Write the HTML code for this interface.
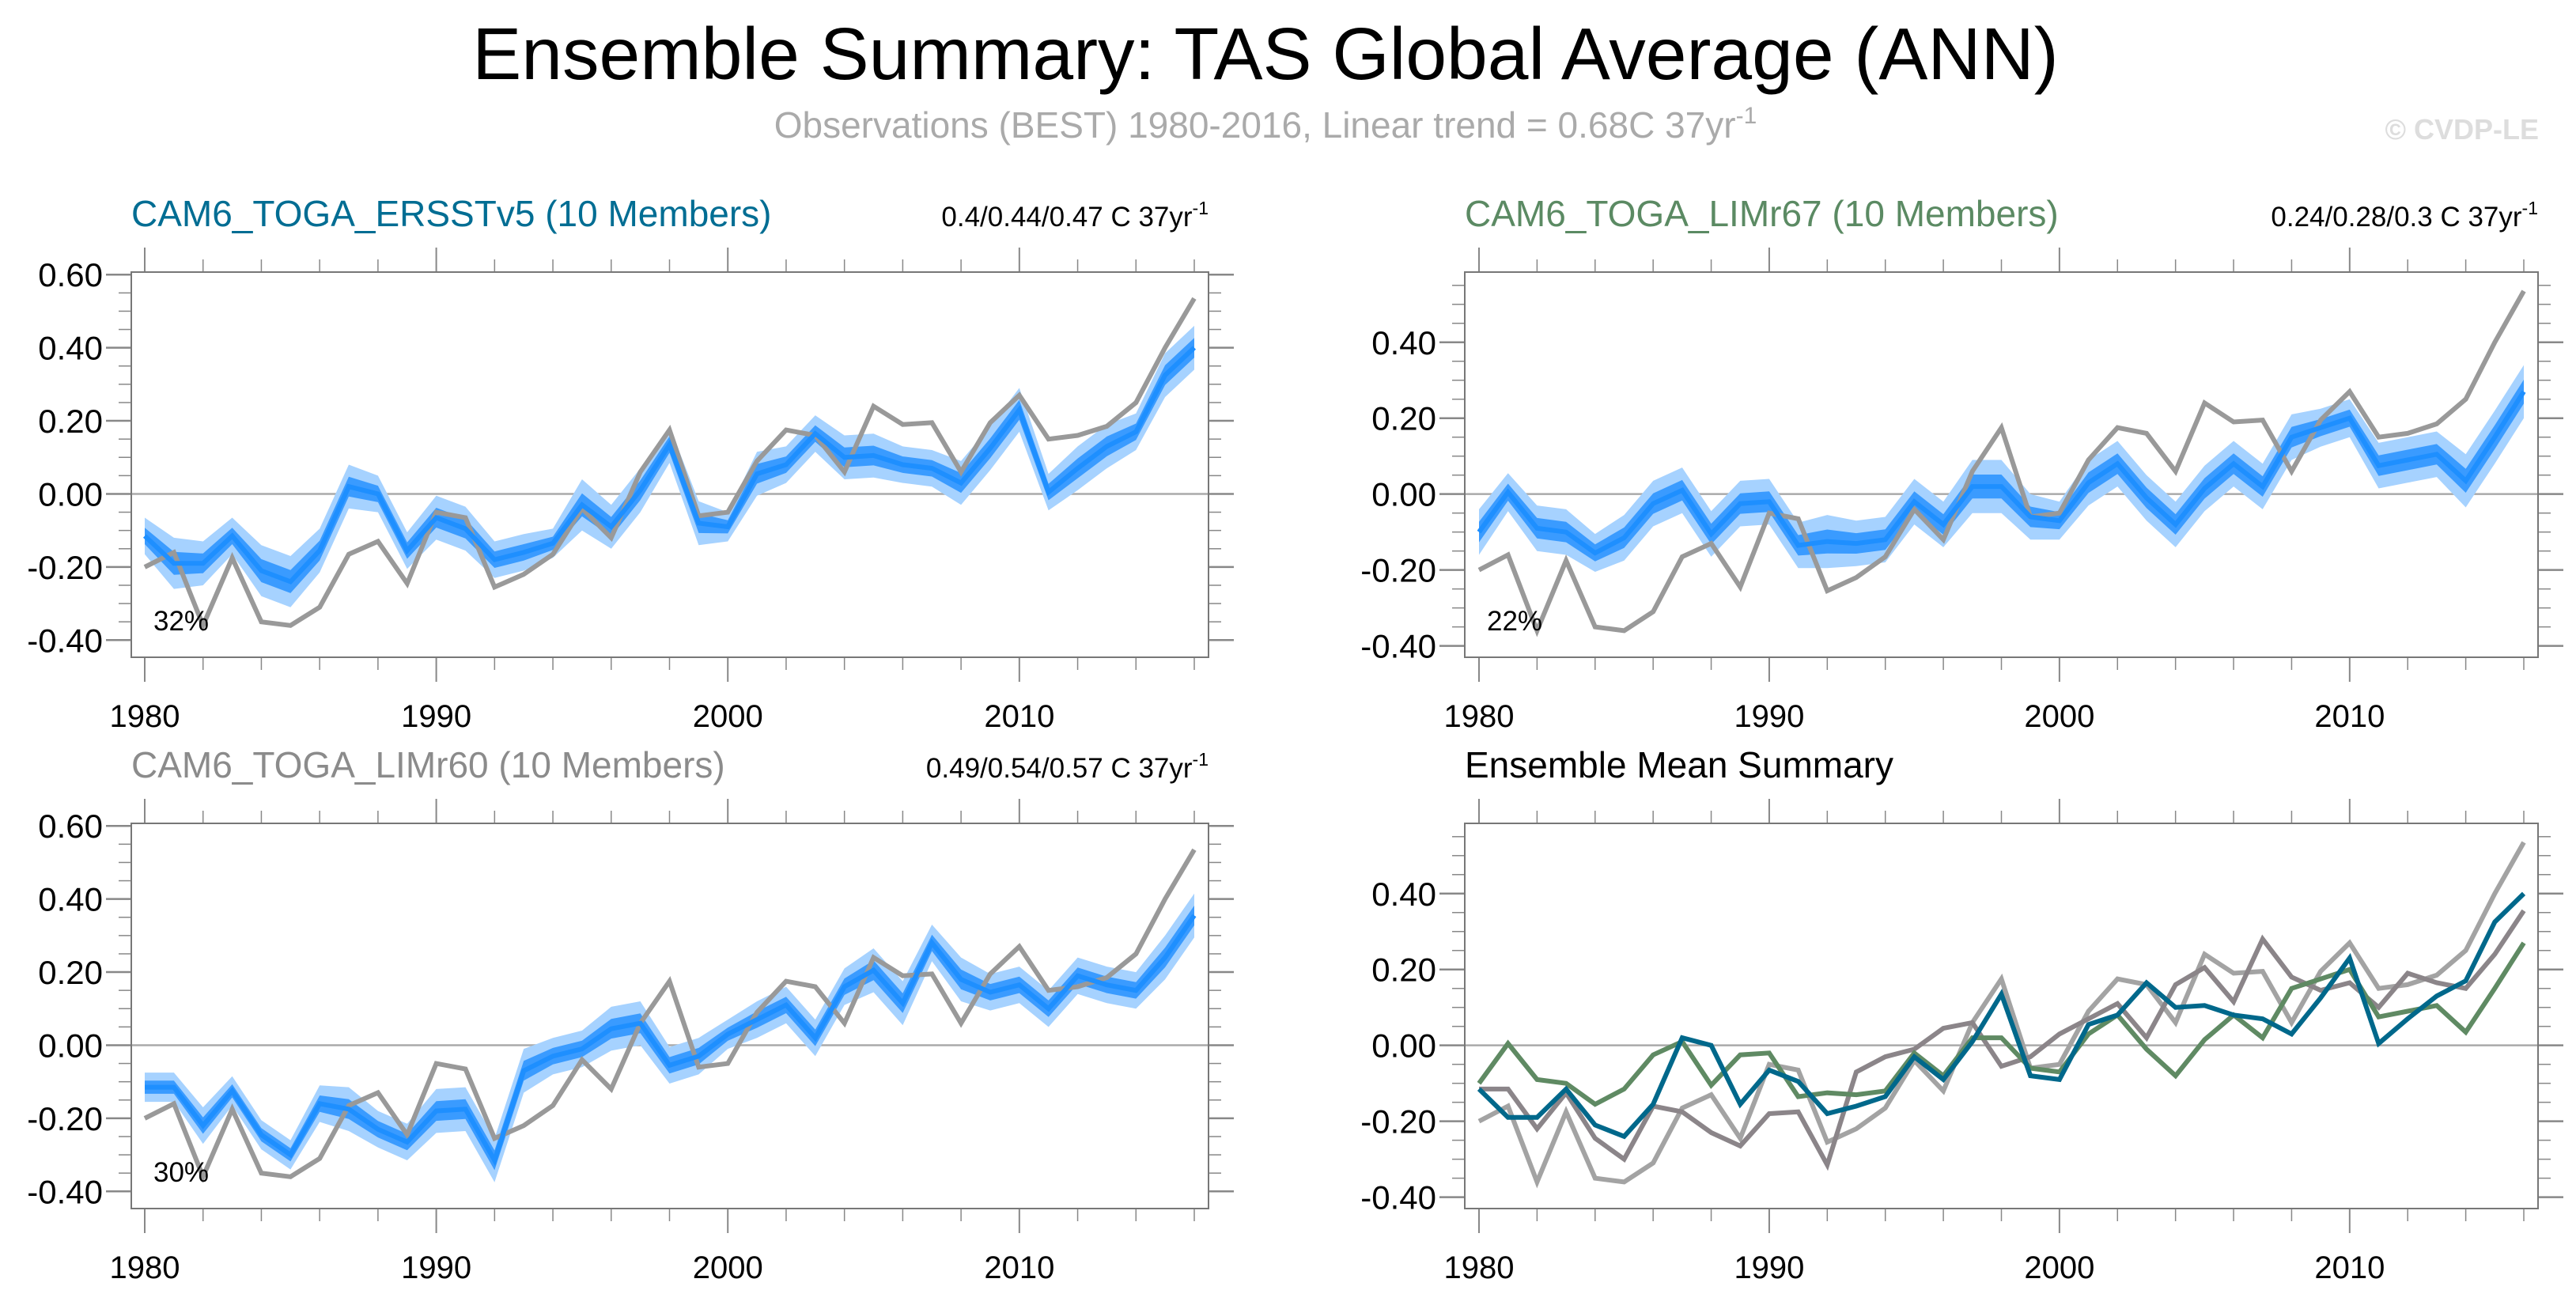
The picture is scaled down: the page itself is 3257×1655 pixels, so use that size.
<!DOCTYPE html>
<html><head><meta charset="utf-8">
<style>
body{margin:0;background:#fff;}
svg text{font-family:"Liberation Sans",sans-serif;}
</style></head>
<body>
<svg id="chart" width="3257" height="1650" viewBox="0 0 3257 1650" xmlns="http://www.w3.org/2000/svg">
<text x="1600" y="100" font-size="93" text-anchor="middle" fill="#000">Ensemble Summary: TAS Global Average (ANN)</text>
<text x="1600" y="174" font-size="46" text-anchor="middle" fill="#aaa">Observations (BEST) 1980-2016, Linear trend = 0.68C 37yr<tspan font-size="30" dy="-18">-1</tspan></text>
<text x="3210" y="176" font-size="36" font-weight="bold" text-anchor="end" fill="#ddd">© CVDP-LE</text>
<g id="plots"></g>
</svg>
<script>
const years = [];
for (let y = 1980; y <= 2016; y++) years.push(y);
const obs = [-0.20,-0.16,-0.36,-0.175,-0.35,-0.36,-0.31,-0.165,-0.13,-0.245,-0.05,-0.065,-0.255,-0.22,-0.165,-0.04,-0.12,0.06,0.175,-0.06,-0.05,0.09,0.175,0.16,0.06,0.24,0.19,0.195,0.06,0.195,0.27,0.15,0.16,0.185,0.25,0.40,0.535];
const meanErsst = [-0.115,-0.19,-0.19,-0.115,-0.21,-0.24,-0.155,0.02,0.0,-0.155,-0.065,-0.095,-0.18,-0.16,-0.135,-0.03,-0.09,0.01,0.135,-0.08,-0.09,0.055,0.08,0.165,0.10,0.105,0.08,0.07,0.03,0.125,0.23,0.005,0.07,0.13,0.17,0.325,0.40];
const meanLim67 = [-0.10,0.005,-0.09,-0.10,-0.155,-0.115,-0.025,0.01,-0.105,-0.025,-0.02,-0.135,-0.125,-0.13,-0.12,-0.02,-0.08,0.02,0.02,-0.06,-0.07,0.03,0.08,-0.01,-0.08,0.015,0.08,0.02,0.15,0.175,0.20,0.075,0.09,0.105,0.035,0.15,0.27];
const meanLim60 = [-0.115,-0.115,-0.22,-0.125,-0.245,-0.30,-0.16,-0.175,-0.23,-0.265,-0.18,-0.175,-0.315,-0.07,-0.03,-0.01,0.045,0.06,-0.055,-0.03,0.03,0.07,0.11,0.02,0.16,0.205,0.115,0.28,0.18,0.145,0.165,0.10,0.19,0.165,0.15,0.24,0.355];
const spreadErsst = [0.05,0.07,0.06,0.05,0.07,0.07,0.06,0.06,0.05,0.05,0.06,0.06,0.05,0.05,0.04,0.07,0.06,0.06,0.05,0.06,0.04,0.06,0.05,0.05,0.06,0.06,0.05,0.05,0.06,0.06,0.06,0.05,0.06,0.06,0.05,0.06,0.06];
const spreadLim67 = [0.06,0.05,0.06,0.06,0.05,0.06,0.06,0.06,0.06,0.06,0.06,0.06,0.07,0.06,0.06,0.06,0.06,0.07,0.07,0.06,0.05,0.06,0.06,0.06,0.06,0.06,0.06,0.06,0.06,0.05,0.05,0.06,0.06,0.06,0.07,0.07,0.07];
const spreadLim60 = [0.04,0.04,0.05,0.04,0.04,0.04,0.05,0.06,0.05,0.05,0.06,0.06,0.06,0.06,0.05,0.05,0.06,0.06,0.05,0.05,0.04,0.05,0.05,0.05,0.05,0.06,0.06,0.05,0.06,0.05,0.05,0.05,0.05,0.05,0.05,0.06,0.06];
const leftTicks = [-0.40,-0.20,0.00,0.20,0.40,0.60];
const rightTicks = [-0.40,-0.20,0.00,0.20,0.40];
const yearLabels = [1980,1990,2000,2010];

const NS = "http://www.w3.org/2000/svg";
const root = document.getElementById('plots');
function mk(tag, attrs, parent){
  const e = document.createElementNS(NS, tag);
  for (const k in attrs) e.setAttribute(k, attrs[k]);
  (parent||root).appendChild(e);
  return e;
}
function panel(p){
  const g = mk('g', {});
  
  
  const xs = yr => p.xa + (yr - 1980) * (p.xb - p.xa) / 36;
  const ys = v => p.y1 - (v - p.vmin) * (p.y1 - p.y0) / (p.vmax - p.vmin);
  for (let v = -0.40; v <= p.vmax + 1e-6; v += 0.05) {
    const vv = Math.round(v*100)/100;
    const major = Math.abs(Math.round(vv*100) % 20) === 0;
    const len = major ? 32 : 16;
    const t1 = mk('line', {x1:p.x0-len, x2:p.x0, y1:ys(vv), y2:ys(vv), stroke:'#888', 'stroke-width':major?2.5:1.5}, g);
    
    
    const t2 = mk('line', {x1:p.x1, x2:p.x1+len, y1:ys(vv), y2:ys(vv), stroke:'#888', 'stroke-width':major?2.5:1.5}, g);
    
    
  }
  for (let yr = 1980; yr <= 2016; yr += 2) {
    const major = (yr % 10) === 0;
    const len = major ? 31 : 16;
    const a = mk('line', {x1:xs(yr), x2:xs(yr), y1:p.y0-len, y2:p.y0, stroke:'#888', 'stroke-width':major?2:1.5}, g);
    
    
    const b = mk('line', {x1:xs(yr), x2:xs(yr), y1:p.y1, y2:p.y1+len, stroke:'#888', 'stroke-width':major?2:1.5}, g);
    
    
  }
  p.ticks.forEach(v => {
    const t = mk('text', {x:p.x0-36, y:ys(v)+15, 'font-size':42, 'text-anchor':'end', fill:'#000'}, g);
    
    
    t.textContent = v.toFixed(2);
  });
  yearLabels.forEach(yr => {
    const t = mk('text', {x:xs(yr), y:p.y1+88, 'font-size':40, 'text-anchor':'middle', fill:'#000'}, g);
    
    
    t.textContent = yr;
  });
  const z = mk('line', {x1:p.x0, x2:p.x1, y1:ys(0), y2:ys(0), stroke:'#aaa', 'stroke-width':2.5}, g);
  
  
  const pts = arr => arr.map((v,i)=>xs(years[i]).toFixed(1)+','+ys(v).toFixed(1));
  const line = (arr, color, w, name) => {
    const l = mk('polyline', {points:pts(arr).join(' '), fill:'none', stroke:color, 'stroke-width':w, 'stroke-linejoin':'miter'}, g);
    
    
  };
  if (p.mean) {
    const band = (k, color, name) => {
      const hi = p.mean.map((v,i)=>v + p.spread[i]*k);
      const lo = p.mean.map((v,i)=>v - p.spread[i]*k);
      const b = mk('polygon', {points:pts(hi).concat(pts(lo).reverse()).join(' '), fill:color}, g);
      
      
    };
    band(1, '#a6d2ff', 'outer-spread-band');
    band(0.45, '#3a9bff', 'inner-spread-band');
    line(obs, '#999', 6, 'observations-line');
    line(p.mean, '#1e8fff', 6, 'ensemble-mean-line');
    const pc = mk('text', {x:p.x0+28, y:p.y1-34, 'font-size':35, fill:'#000'}, g);
    
    
    pc.textContent = p.pct;
  } else {
    line(obs, '#a3a3a3', 6, 'observations-line');
    line(meanLim60, '#8b8589', 6, 'limr60-mean-line');
    line(meanLim67, '#5f8a63', 6, 'limr67-mean-line');
    line(meanErsst, '#00688b', 6, 'ersst-mean-line');
  }
  const box = mk('rect', {x:p.x0, y:p.y0, width:p.x1-p.x0, height:p.y1-p.y0, fill:'none', stroke:'#777', 'stroke-width':2}, g);
  
  
  const tt = mk('text', {x:p.x0, y:p.y0-58, 'font-size':46, fill:p.tcolor}, g);
  
  
  tt.textContent = p.title;
  if (p.trend) {
    const tr = mk('text', {x:p.x1, y:p.y0-58, 'font-size':35, 'text-anchor':'end', fill:'#000'}, g);
    
    
    tr.innerHTML = p.trend + ' C 37yr<tspan font-size="23" dy="-15">-1</tspan>';
  }
}
panel({name:'panel-ersstv5', x0:166,x1:1528,y0:344,y1:831,xa:183,xb:1510,vmin:-0.447,vmax:0.607,ticks:leftTicks,mean:meanErsst,spread:spreadErsst,pct:'32%',title:'CAM6_TOGA_ERSSTv5 (10 Members)',tcolor:'#006d93',trend:'0.4/0.44/0.47'});
panel({name:'panel-limr67', x0:1852,x1:3209,y0:344,y1:831,xa:1870,xb:3191,vmin:-0.43,vmax:0.585,ticks:rightTicks,mean:meanLim67,spread:spreadLim67,pct:'22%',title:'CAM6_TOGA_LIMr67 (10 Members)',tcolor:'#5b8a63',trend:'0.24/0.28/0.3'});
panel({name:'panel-limr60', x0:166,x1:1528,y0:1041,y1:1528,xa:183,xb:1510,vmin:-0.447,vmax:0.607,ticks:leftTicks,mean:meanLim60,spread:spreadLim60,pct:'30%',title:'CAM6_TOGA_LIMr60 (10 Members)',tcolor:'#8b8b8b',trend:'0.49/0.54/0.57'});
panel({name:'panel-ensemble-mean-summary', x0:1852,x1:3209,y0:1041,y1:1528,xa:1870,xb:3191,vmin:-0.43,vmax:0.585,ticks:rightTicks,mean:null,title:'Ensemble Mean Summary',tcolor:'#000',trend:null});
</script>
</body></html>
